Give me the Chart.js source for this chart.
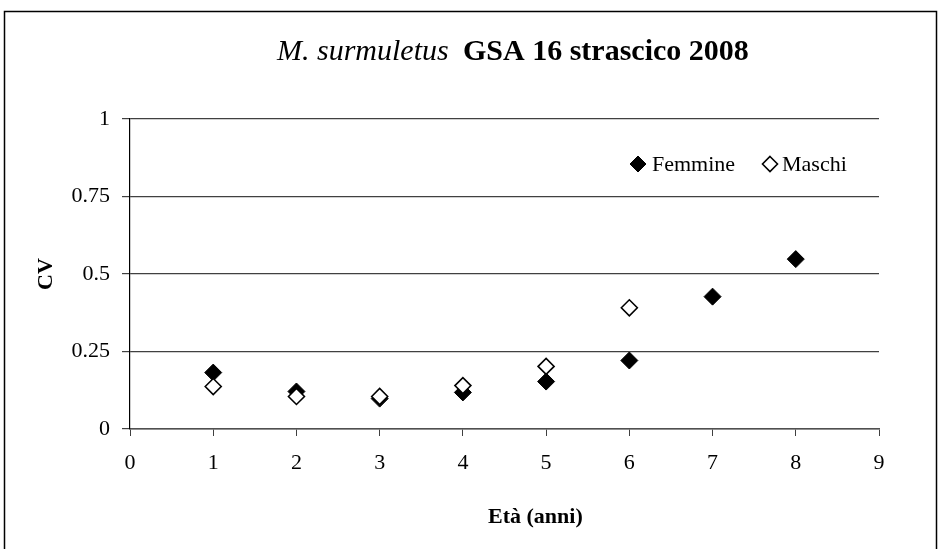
<!DOCTYPE html>
<html>
<head>
<meta charset="utf-8">
<script src="https://cdn.jsdelivr.net/npm/chart.js@4/dist/chart.umd.min.js"></script>
<style>
html,body{margin:0;padding:0;background:#fff;}
#wrap{width:940px;height:549px;}
</style>
</head>
<body>
<div id="wrap"><canvas id="c" width="940" height="549"></canvas></div>
<script>
const ages = [1, 2, 3, 4, 5, 6, 7, 8];
const femmine = [0.182, 0.121, 0.098, 0.118, 0.153, 0.221, 0.427, 0.548];
const maschi = [0.137, 0.105, 0.105, 0.140, 0.202, 0.391];
const yTicks = [0, 0.25, 0.5, 0.75, 1];
const xTicks = [0, 1, 2, 3, 4, 5, 6, 7, 8, 9];
const seriesNames = ['Femmine', 'Maschi'];
const titleItalic = 'M. surmuletus';
const titleBold = 'GSA 16 strascico 2008';
const xTitle = 'Età (anni)';
const yTitle = 'CV';

const FONT = "'Liberation Serif', 'Times New Roman', serif";

function diamond(ctx, x, y, r, fill) {
  ctx.beginPath();
  ctx.moveTo(x, y - r);
  ctx.lineTo(x + r, y);
  ctx.lineTo(x, y + r);
  ctx.lineTo(x - r, y);
  ctx.closePath();
  ctx.fillStyle = fill ? '#000' : '#fff';
  ctx.fill();
  ctx.lineWidth = fill ? 1 : 1.6;
  ctx.strokeStyle = '#000';
  ctx.stroke();
}

const decor = {
  id: 'decor',
  afterDraw(chart) {
    const ctx = chart.ctx;
    const ca = chart.chartArea;
    ctx.save();
    // outer frame
    ctx.strokeStyle = '#000';
    ctx.lineWidth = 1.5;
    ctx.strokeRect(4.5, 11.5, 932, 600);
    // title
    ctx.fillStyle = '#000';
    ctx.textBaseline = 'alphabetic';
    ctx.textAlign = 'left';
    ctx.font = "italic 30px " + FONT;
    ctx.fillText(titleItalic, 277, 60);
    ctx.font = "bold 30px " + FONT;
    ctx.fillText(titleBold, 463, 60);
    // x title
    ctx.font = "bold 22px " + FONT;
    ctx.fillText(xTitle, 488, 523);
    // y title
    ctx.save();
    ctx.translate(52, (ca.top + ca.bottom) / 2);
    ctx.rotate(-Math.PI / 2);
    ctx.textAlign = 'center';
    ctx.fillText(yTitle, 0, 0);
    ctx.restore();
    // legend
    const ly = 164;
    ctx.font = "22px " + FONT;
    ctx.textBaseline = 'middle';
    diamond(ctx, 638, ly, 8, true);
    ctx.fillStyle = '#000';
    ctx.fillText(seriesNames[0], 652, ly + 1);
    diamond(ctx, 770, ly, 7.5, false);
    ctx.fillStyle = '#000';
    ctx.fillText(seriesNames[1], 782, ly + 1);
    ctx.restore();
  }
};

new Chart(document.getElementById('c'), {
  type: 'scatter',
  data: {
    datasets: [
      {
        label: seriesNames[1],
        data: maschi.map((v, i) => ({x: ages[i], y: v})),
        pointStyle: 'rectRot',
        pointRadius: 8,
        pointHoverRadius: 8,
        backgroundColor: '#fff',
        borderColor: '#000',
        pointBorderWidth: 1.6,
        order: 0
      },
      {
        label: seriesNames[0],
        data: femmine.map((v, i) => ({x: ages[i], y: v})),
        pointStyle: 'rectRot',
        pointRadius: 8.5,
        pointHoverRadius: 8.5,
        backgroundColor: '#000',
        borderColor: '#000',
        pointBorderWidth: 1,
        order: 1
      }
    ]
  },
  options: {
    responsive: false,
    animation: false,
    layout: { padding: { left: 0, top: 119, right: 61, bottom: 0 } },
    plugins: {
      legend: { display: false },
      title: { display: false },
      tooltip: { enabled: false }
    },
    scales: {
      x: {
        type: 'linear',
        min: 0,
        max: 9,
        afterFit(s) { s.height = 120; },
        afterBuildTicks(s) { s.ticks = xTicks.map(v => ({value: v})); },
        grid: { drawOnChartArea: false, drawTicks: true, tickLength: 7, color: '#404040', lineWidth: 1 },
        border: { display: true, color: '#505050', width: 1.5 },
        ticks: { color: '#000', padding: 14, maxRotation: 0, font: { family: FONT, size: 22 } }
      },
      y: {
        type: 'linear',
        min: 0,
        max: 1,
        afterFit(s) { s.width = 130; },
        afterBuildTicks(s) { s.ticks = yTicks.map(v => ({value: v})); },
        grid: { drawTicks: true, tickLength: 8, color: '#404040', lineWidth: 1.2 },
        border: { display: true, color: '#000', width: 1.2 },
        ticks: { color: '#000', padding: 12, callback: v => String(v), font: { family: FONT, size: 22 } }
      }
    }
  },
  plugins: [decor]
});
</script>
</body>
</html>
